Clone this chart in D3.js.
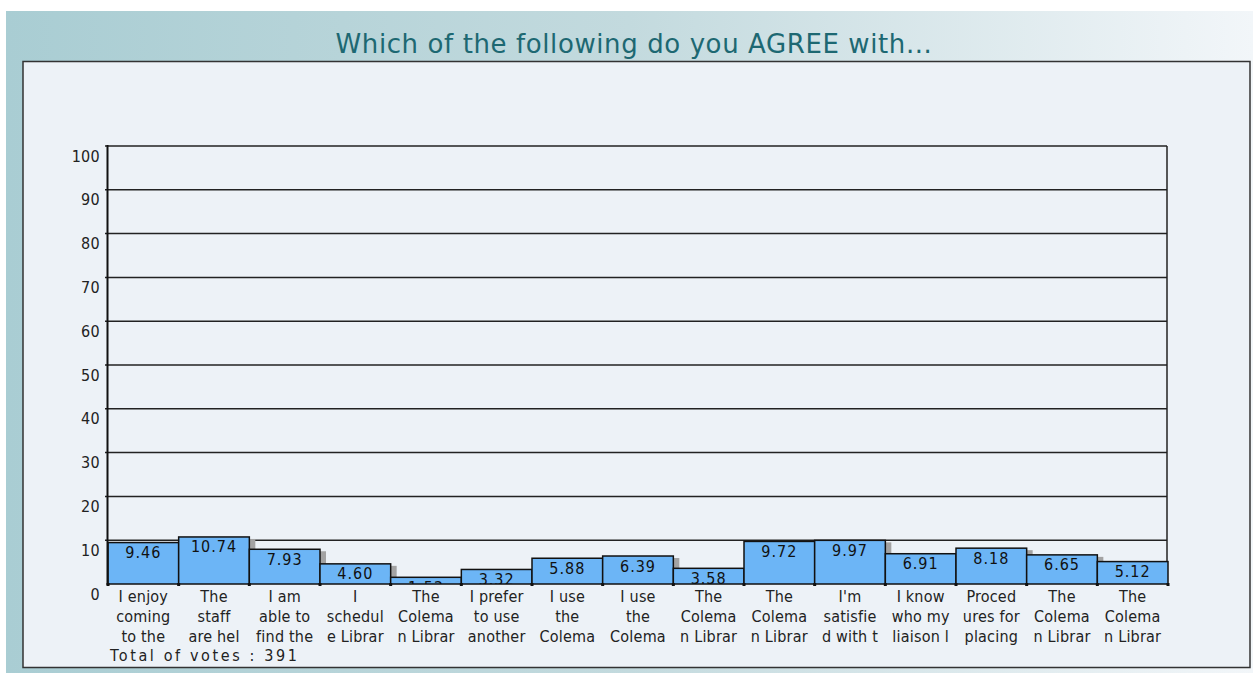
<!DOCTYPE html>
<html><head><meta charset="utf-8">
<script src="https://cdn.jsdelivr.net/npm/d3@7"></script>
<style>html,body{margin:0;padding:0;background:#fff;}svg{display:block;}</style>
</head><body>
<svg id="c" width="1253" height="673"></svg>
<script>
const title = "Which of the following do you AGREE with...";
const categories = [
  ["I enjoy","coming","to the"],
  ["The","staff","are hel"],
  ["I am","able to","find the"],
  ["I","schedul","e Librar"],
  ["The","Colema","n Librar"],
  ["I prefer","to use","another"],
  ["I use","the","Colema"],
  ["I use","the","Colema"],
  ["The","Colema","n Librar"],
  ["The","Colema","n Librar"],
  ["I'm","satisfie","d with t"],
  ["I know","who my","liaison l"],
  ["Proced","ures for","placing"],
  ["The","Colema","n Librar"],
  ["The","Colema","n Librar"]
];
const values = [9.46,10.74,7.93,4.60,1.53,3.32,5.88,6.39,3.58,9.72,9.97,6.91,8.18,6.65,5.12];
const yTicks = [0,10,20,30,40,50,60,70,80,90,100];
const footer = "Total of votes : 391";

const FONT = "'DejaVu Sans Condensed', 'DejaVu Sans', sans-serif";
const svg = d3.select("#c");
const defs = svg.append("defs");
const grad = defs.append("linearGradient").attr("id","bg").attr("x1","0").attr("x2","1").attr("y1","0").attr("y2","0");
grad.append("stop").attr("offset","0").attr("stop-color","#a9cdd3");
grad.append("stop").attr("offset","0.5").attr("stop-color","#c3dade");
grad.append("stop").attr("offset","1").attr("stop-color","#f2f6f9");

svg.append("rect").attr("x",6).attr("y",11).attr("width",1247).attr("height",662).attr("fill","url(#bg)");
svg.append("rect").attr("x",23).attr("y",61.5).attr("width",1227).attr("height",606).attr("fill","#edf2f7").attr("stroke","#333").attr("stroke-width",1.5);

svg.append("text").attr("x",634).attr("y",53).attr("text-anchor","middle")
  .attr("font-family","DejaVu Sans").attr("font-size",26).attr("letter-spacing",0.6)
  .attr("fill","#1d6872").text(title);

const x = d3.scaleBand().domain(d3.range(values.length)).range([108,1168]).padding(0);
const y = d3.scaleLinear().domain([0,100]).range([584,146]);

defs.append("clipPath").attr("id","plot").append("rect").attr("x",100).attr("y",140).attr("width",1080).attr("height",444);
defs.append("clipPath").attr("id","shadow").append("rect").attr("x",100).attr("y",140).attr("width",1067).attr("height",450);

// gridlines
const grid = svg.append("g");
grid.selectAll("line").data(yTicks.filter(t=>t>0)).join("line")
  .attr("x1",105).attr("x2",1167).attr("y1",d=>y(d)).attr("y2",d=>y(d))
  .attr("stroke","#222").attr("stroke-width",1.5);
grid.append("line").attr("x1",1167).attr("x2",1167).attr("y1",y(100)).attr("y2",y(0)).attr("stroke","#222").attr("stroke-width",1.5);

// y axis
const yAxis = d3.axisLeft(y).tickValues(yTicks).tickSize(0).tickPadding(7);
const ya = svg.append("g").attr("transform","translate(107,0)").call(yAxis);
ya.select(".domain").remove();
ya.selectAll("text").attr("font-family",FONT).attr("font-size",16).attr("letter-spacing",0.3)
  .attr("fill","#222").attr("dy","0.95em");

// bars
const bars = svg.append("g");
values.forEach((v,i)=>{
  bars.append("rect").attr("clip-path","url(#shadow)").attr("x",x(i)+6).attr("y",y(v)+2).attr("width",x.bandwidth()).attr("height",y(0)-y(v)-2).attr("fill","#a3a3a3");
  bars.append("rect").attr("x",x(i)).attr("y",y(v)).attr("width",x.bandwidth()).attr("height",y(0)-y(v))
    .attr("fill","#6cb5f6").attr("stroke","#111").attr("stroke-width",1.5);
});
svg.append("line").attr("x1",107.5).attr("x2",107.5).attr("y1",y(100)-1).attr("y2",y(0)+1).attr("stroke","#111").attr("stroke-width",2);
svg.append("g").selectAll("rect").data(d3.range(values.length+1)).join("rect")
  .attr("x",d=>(d<values.length?x(d):x(values.length-1)+x.bandwidth())-1.5).attr("y",y(0)-1)
  .attr("width",3).attr("height",3).attr("fill","#111");

// value labels, clipped to plot
svg.append("g").attr("clip-path","url(#plot)").selectAll("text").data(values).join("text")
  .attr("x",(d,i)=>x(i)+x.bandwidth()/2).attr("y",d=>y(d)+15.5).attr("text-anchor","middle")
  .attr("font-family",FONT).attr("font-size",16).attr("letter-spacing",1)
  .attr("fill","#111").text(d=>d.toFixed(2));

// x labels
const xl = svg.append("g");
categories.forEach((lines,i)=>{
  lines.forEach((ln,j)=>{
    xl.append("text").attr("x",x(i)+x.bandwidth()/2).attr("y",602+j*20).attr("text-anchor","middle")
      .attr("font-family",FONT).attr("font-size",16).attr("letter-spacing",0.2)
      .attr("fill","#222").text(ln);
  });
});
svg.append("text").attr("x",110).attr("y",661).attr("font-family",FONT).attr("font-size",16)
  .attr("textLength",187).attr("lengthAdjust","spacing").attr("fill","#222").text(footer);
</script>
</body></html>
